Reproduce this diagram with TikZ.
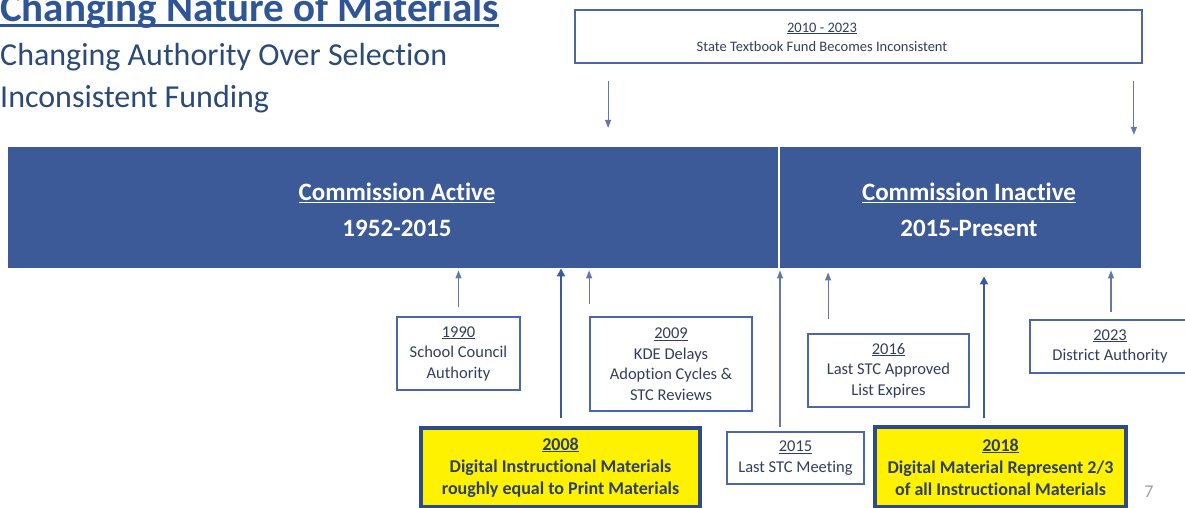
\documentclass[tikz,border=0pt]{standalone}
\usepackage{fontspec}
\setmainfont{Carlito}[Ligatures=NoCommon]
\usetikzlibrary{arrows.meta,calc}
\definecolor{barblue}{HTML}{3C5998}
\definecolor{titleblue}{HTML}{2F5597}
\definecolor{subblue}{HTML}{2B4A78}
\definecolor{boxline}{HTML}{4A67A8}
\definecolor{boxtext}{HTML}{333F5A}
\definecolor{ybord}{HTML}{2D4A8A}
\definecolor{ytext}{HTML}{2E3F6E}
\definecolor{arrcol}{HTML}{6478A8}
\definecolor{pagegray}{HTML}{A0A0A0}
\newcommand{\myul}[1]{\setbox0\hbox{#1}\rlap{\rule[-0.12em]{\wd0}{0.06em}}\box0}
\begin{document}
\begin{tikzpicture}[x=1pt,y=-1pt,
  box/.style={draw=boxline, line width=1.8pt, fill=white, align=center, inner sep=0pt, text=boxtext, font=\fontsize{16.5}{20.5}\selectfont},
  ybox/.style={draw=ybord, line width=3.5pt, fill=yellow, align=center, inner sep=0pt, text=ytext, font=\fontsize{18}{22}\selectfont\bfseries},
  thinarr/.style={draw=arrcol, line width=1.1pt, -{Triangle[length=8pt,width=6pt]}},
  thickarr/.style={draw=barblue, line width=2.8pt, -{Triangle[length=8pt,width=8pt]}},
  bartext/.style={text=white, inner sep=0pt, anchor=base, font=\fontsize{25}{30}\selectfont\bfseries},
  bar/.style={fill=barblue, inner sep=0pt, anchor=north west},
  heading/.style={anchor=base west, inner sep=0pt},
]
\useasboundingbox (0,0) rectangle (1185,508);

% headings
\node[heading, text=titleblue, font=\fontsize{41}{41}\selectfont\bfseries] (title) at (0,22) {\myul{Changing Nature of Materials}};
\node[heading, text=subblue, font=\fontsize{32}{40}\selectfont] (sub1) at (0,66) {Changing Authority Over Selection};
\node[heading, text=subblue, font=\fontsize{32}{40}\selectfont] (sub2) at (0,107) {Inconsistent Funding};

% top box
\node[box, minimum width=567pt, minimum height=53pt] (top) at (858.5,36.5) {};
\node[align=center, inner sep=0pt, text=boxtext, font=\fontsize{14.5}{19}\selectfont] (toptext) at (822,37) {\myul{2010 - 2023}\\State Textbook Fund Becomes Inconsistent};
\draw[thinarr] ($(top.south west)+(34,17)$) -- ++(0,47);
\draw[thinarr] ($(top.south east)+(-9,17)$) -- ++(0,54);

% bar
\node[bar, minimum width=770pt, minimum height=121pt] (barL) at (8,147) {};
\node[bar, minimum width=361pt, minimum height=121pt] (barR) at (780,147) {};
\node[bartext] (ca) at (397,200) {\myul{Commission Active}};
\node[bartext] (cay) at (397,236) {1952-2015};
\node[bartext] (ci) at (969,200) {\myul{Commission Inactive}};
\node[bartext] (ciy) at (969,236) {2015-Present};

% lower boxes
\node[box, minimum width=123pt, minimum height=73pt] (b1990) at (458.5,353.5) {\myul{1990}\\School Council\\Authority};
\node[box, minimum width=162pt, minimum height=94pt] (b2009) at (671,364) {\myul{2009}\\KDE Delays\\Adoption Cycles \&\\STC Reviews};
\node[ybox, minimum width=279pt, minimum height=79pt] (b2008) at (560.5,467.5) {\myul{2008}\\Digital Instructional Materials\\roughly equal to Print Materials};
\node[box, minimum width=137pt, minimum height=52pt] (b2015) at (795.5,458) {\myul{2015}\\Last STC Meeting};
\node[box, minimum width=161pt, minimum height=73pt] (b2016) at (888.5,370.5) {\myul{2016}\\Last STC Approved\\List Expires};
\node[ybox, minimum width=251pt, minimum height=80pt] (b2018) at (1000.5,467) {\myul{2018}\\Digital Material Represent 2/3\\of all Instructional Materials};
\node[box, minimum width=160pt, minimum height=53pt] (b2023) at (1110,346.5) {\myul{2023}\\District Authority};

% arrows up
\coordinate (a1990) at ($(b1990.north)+(0,-9)$);
\draw[thinarr, shorten >=2pt] (a1990) -- (a1990 |- barL.south);
\coordinate (a2009) at ($(b2009.north west)+(0,-12)$);
\draw[thinarr, shorten >=2pt] (a2009) -- (a2009 |- barL.south);
\coordinate (a2008) at ($(b2008.north)+(0.5,-8)$);
\draw[thickarr] (a2008) -- (a2008 |- barL.south);
\coordinate (a2015) at ($(b2015.north)+(-15.5,-4)$);
\draw[thinarr, shorten >=2pt] (a2015) -- (a2015 |- barR.south);
\coordinate (a2016) at ($(b2016.north west)+(21,-14)$);
\draw[thinarr, shorten >=4pt] (a2016) -- (a2016 |- barR.south);
\coordinate (a2018) at ($(b2018.north)+(-16.5,-7)$);
\draw[thickarr, shorten >=8pt] (a2018) -- (a2018 |- barR.south);
\coordinate (a2023) at ($(b2023.north)+(1,-7)$);
\draw[thinarr, shorten >=2pt] (a2023) -- (a2023 |- barR.south);

% page number
\node[text=pagegray, font=\fontsize{18}{18}\selectfont, inner sep=0pt] (pg) at (1149,492) {7};
\end{tikzpicture}
\end{document}
